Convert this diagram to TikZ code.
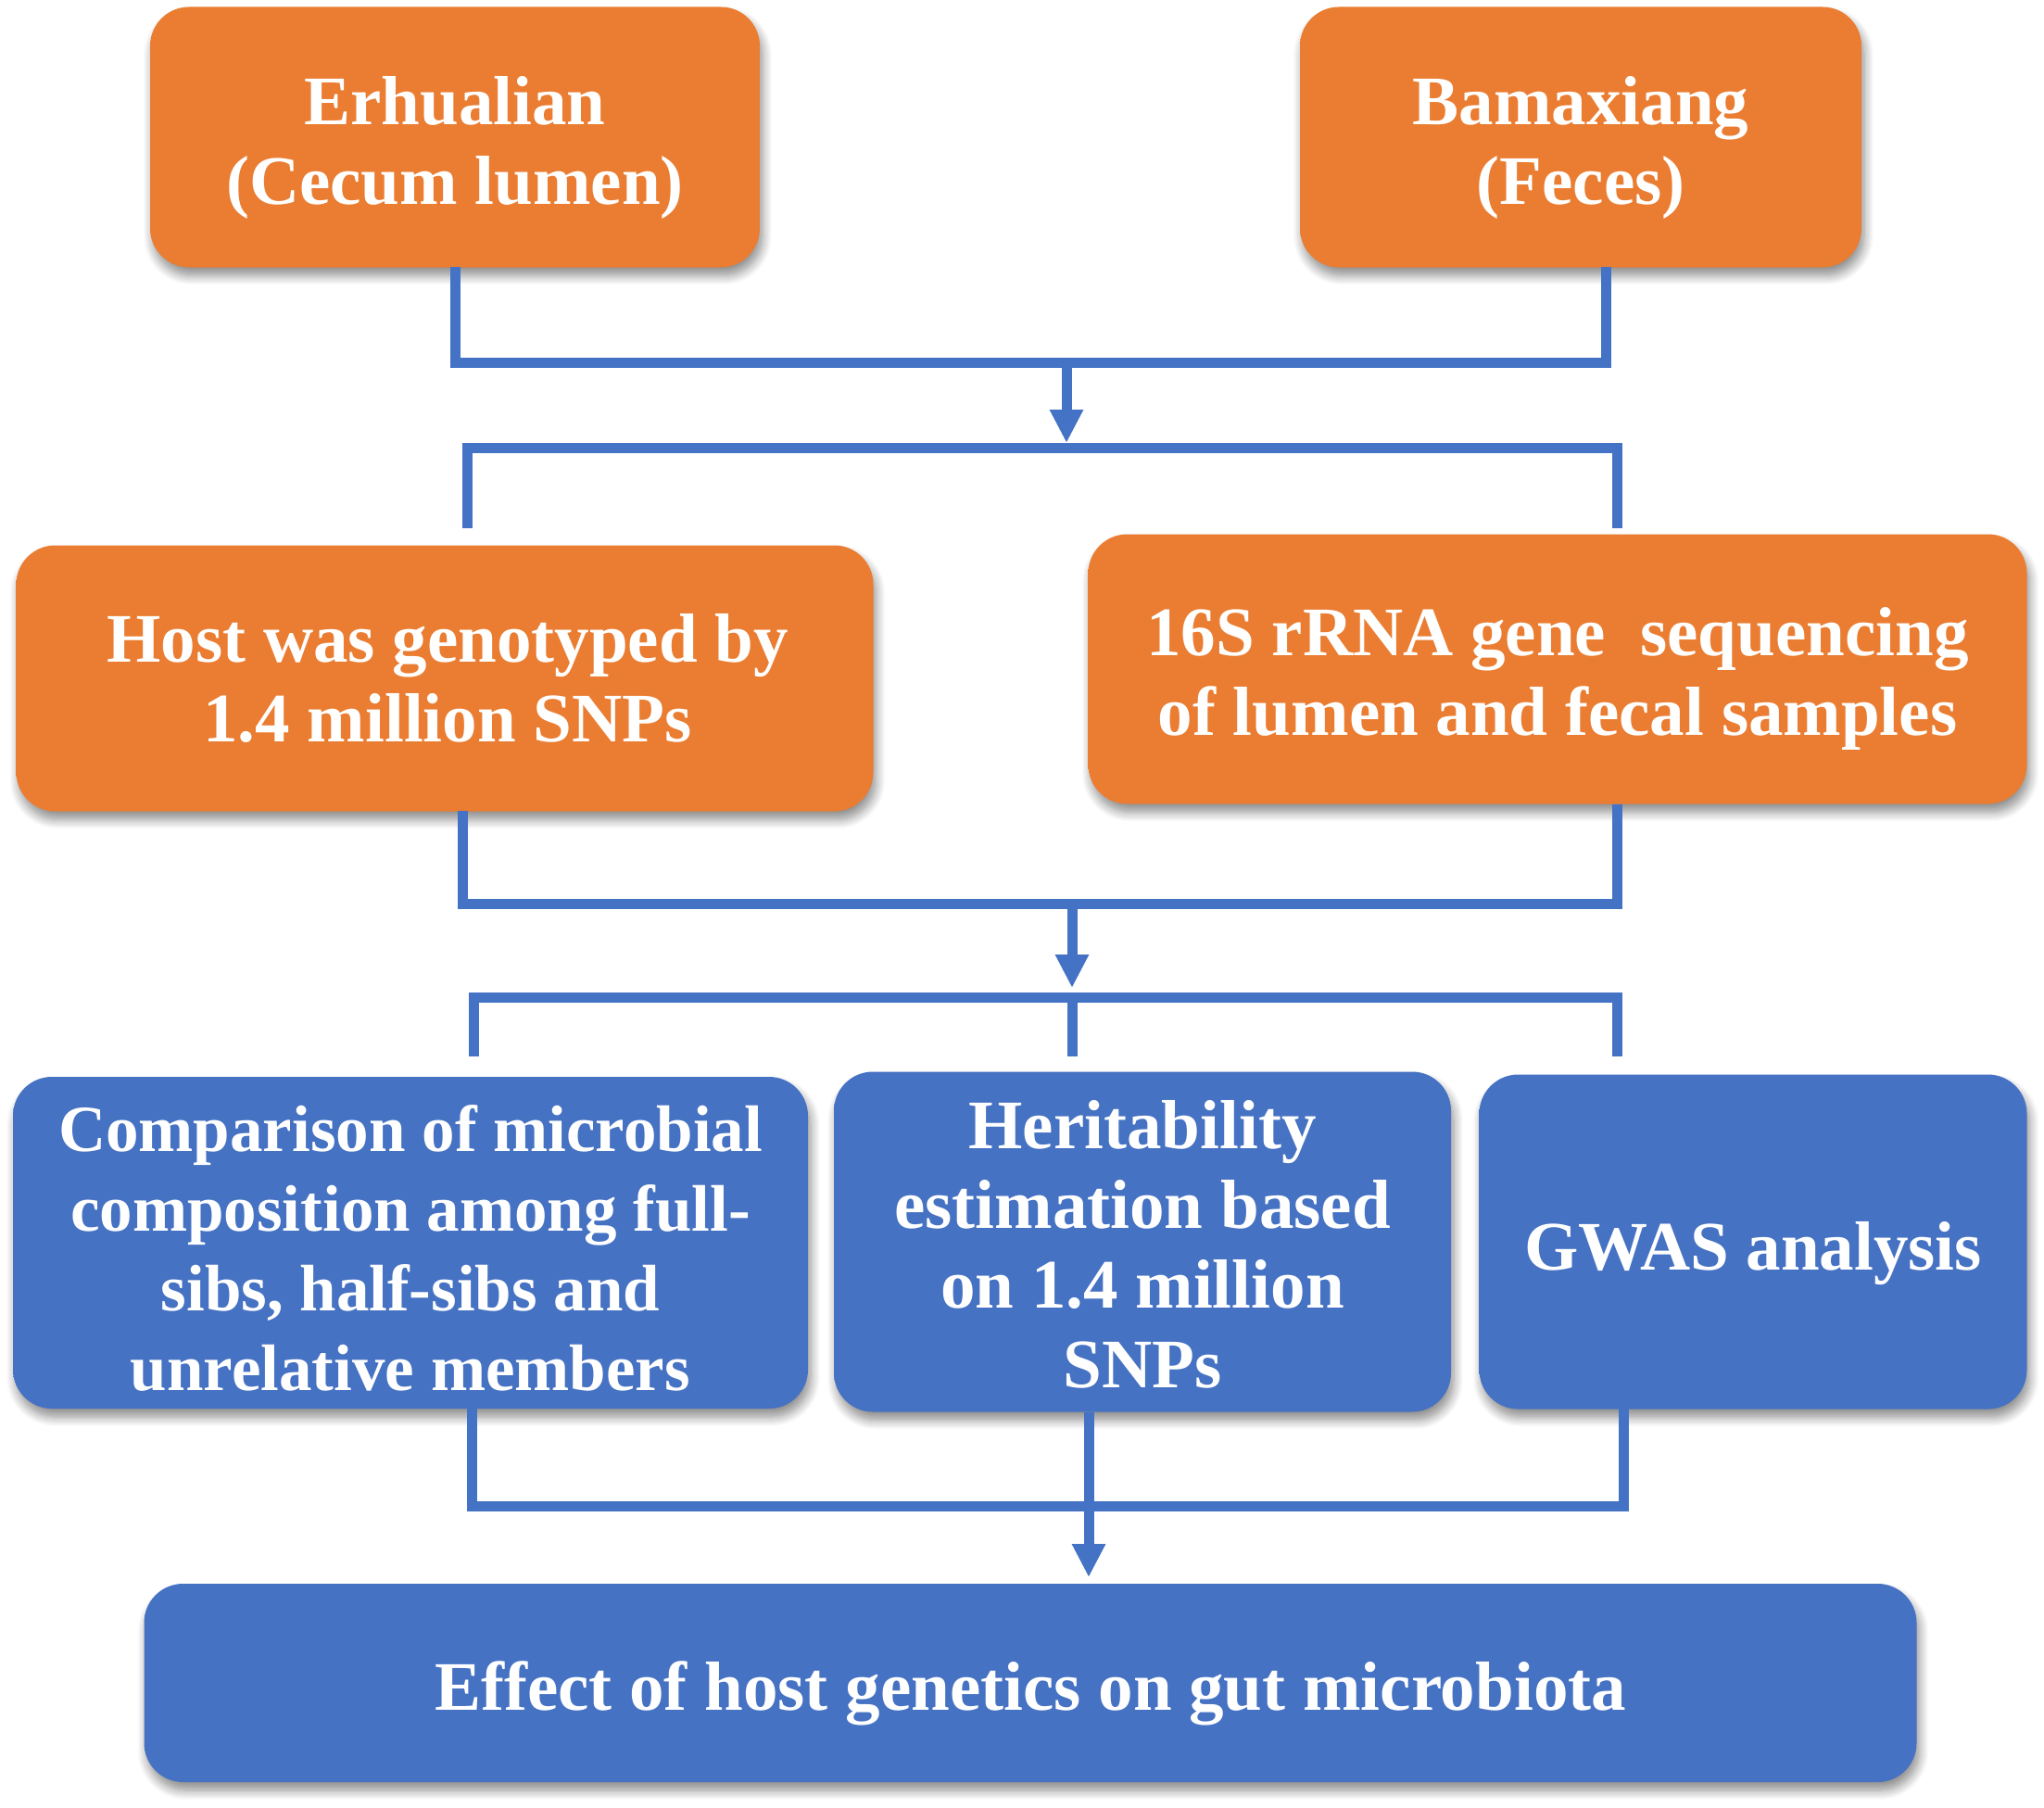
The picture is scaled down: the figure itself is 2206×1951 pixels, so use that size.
\documentclass[tikz,border=0pt]{standalone}
\usepackage{fontspec}
\setmainfont{Liberation Serif}
\usetikzlibrary{shadows,shadows.blur,arrows.meta,calc}
\definecolor{conn}{HTML}{4472C4}
\definecolor{orgbase}{HTML}{EA7D32}
\definecolor{orgtop}{HTML}{FBAE6A}
\definecolor{bluebase}{HTML}{4672C3}
\definecolor{bluetop}{HTML}{92BBF6}
\pgfdeclareverticalshading{orgshade}{100bp}{color(0bp)=(orgbase); color(86bp)=(orgbase); color(100bp)=(orgtop)}
\pgfdeclareverticalshading{blueshade}{100bp}{color(0bp)=(bluebase); color(86bp)=(bluebase); color(100bp)=(bluetop)}
\begin{document}
\begin{tikzpicture}[x=1pt,y=-1pt,
  box/.style={rounded corners=42pt, inner sep=0pt, shade,
    blur shadow={shadow xshift=3pt, shadow yshift=-9pt, shadow blur steps=10, shadow blur radius=10pt, shadow opacity=45}},
  obox/.style={box, shading=orgshade},
  bbox/.style={box, shading=blueshade},
  txt/.style={text=white, align=center, inner sep=0pt, font=\fontsize{75}{86}\selectfont\bfseries},
  link/.style={draw=conn, line width=11pt, line join=miter},
  arr/.style={link, -{Triangle[width=34pt,length=36pt]}}
]
\useasboundingbox (0,0) rectangle (2206,1951);
% boxes
\node[obox, minimum width=658pt, minimum height=281pt] (A) at (491,148) {};
\node[txt] (At) at ($(A)+(0,11)$) {Erhualian\\(Cecum lumen)};
\node[obox, minimum width=606pt, minimum height=281pt] (B) at (1706,148) {};
\node[txt] (Bt) at ($(B)+(0,11)$) {Bamaxiang\\(Feces)};
\node[obox, minimum width=925pt, minimum height=287pt] (C) at (480,732) {};
\node[txt] (Ct) at ($(C)+(3,0)$) {Host was genotyped by\\1.4 million SNPs};
\node[obox, minimum width=1013pt, minimum height=291pt] (D) at (1681,722) {};
\node[txt] (Dt) at ($(D)+(0,10)$) {16S rRNA gene~ sequencing\\of lumen and fecal samples};
\node[bbox, minimum width=858pt, minimum height=358pt] (E) at (443,1341) {};
\node[txt, font=\fontsize{71}{86}\selectfont\bfseries] (Et) at ($(E)+(0,6)$) {Comparison of microbial\\composition among full-\\sibs, half-sibs and\\unrelative members};
\node[bbox, minimum width=666pt, minimum height=367pt] (F) at (1233,1340) {};
\node[txt] (Ft) at ($(F)+(0,3)$) {Heritability\\estimation based\\on 1.4 million\\SNPs};
\node[bbox, minimum width=591pt, minimum height=361pt] (G) at (1892,1340) {};
\node[txt] (Gt) at ($(G)+(0,13)$) {GWAS analysis};
\node[bbox, minimum width=1913pt, minimum height=214pt] (H) at (1112,1816) {};
\node[txt] (Ht) at ($(H)+(0,11)$) {Effect of host genetics on gut microbiota};
% stage 1
\coordinate (As) at (491,288);
\coordinate (Bs) at (1733,288);
\coordinate (j1) at (1151,391);
\coordinate (k1) at (1151,478);
\draw[link] (As) -- (As |- j1) -- (j1 -| Bs) -- (Bs);
\draw[arr] (j1) -- (k1);
\coordinate (b1l) at (504,570);
\coordinate (b1r) at (1745,570);
\draw[link] (b1l) -- (504,483) -- (1745,483) -- (b1r);
% stage 2
\coordinate (Cs) at (499,875);
\coordinate (Ds) at (1745,868);
\coordinate (j2) at (1157,975);
\coordinate (k2) at (1157,1066);
\draw[link] (Cs) -- (Cs |- j2) -- (j2 -| Ds) -- (Ds);
\draw[arr] (j2) -- (k2);
\coordinate (b2l) at (511,1140);
\coordinate (b2m) at (1157,1140);
\coordinate (b2r) at (1745,1140);
\draw[link] (b2l) -- (511,1076) -- (1745,1076) -- (b2r);
\draw[link] (1157,1076) -- (b2m);
% stage 3
\coordinate (Es) at (509,1520);
\coordinate (Gs) at (1752,1520);
\coordinate (Fs) at (1175,1524);
\coordinate (Hn) at (1175,1702);
\draw[link] (Es) -- (509,1625) -- (1752,1625) -- (Gs);
\draw[arr] (Fs) -- (Hn);
\end{tikzpicture}
\end{document}
